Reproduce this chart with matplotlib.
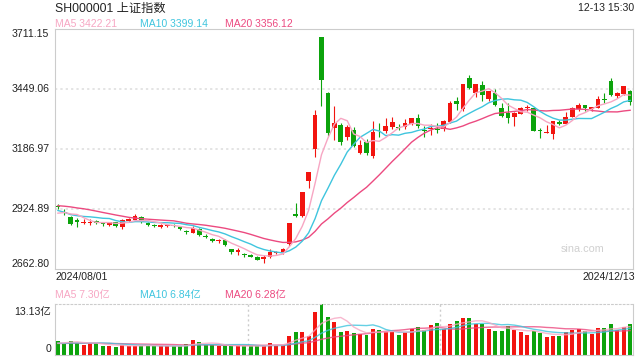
import matplotlib.pyplot as plt
import numpy as np
import pandas as pd

plt.rcParams['font.family'] = ['Liberation Sans', 'Noto Sans CJK SC']

# daily candles, 2024/08/01 .. 2024/12/13
opens = [2936, 2912, 2888, 2876, 2865, 2864, 2874, 2862, 2857, 2866, 2847, 2872, 2876, 2892, 2862, 2855, 2848, 2852, 2856, 2847, 2830, 2821,
         2838, 2808, 2795, 2785, 2789, 2750, 2738, 2728, 2722, 2714, 2706, 2716, 2731, 2735, 2770.75, 2901.42, 2893, 3049, 3186,
         3674.40, 3433, 3277, 3290, 3238, 3268, 3170, 3219, 3155, 3272, 3265, 3285, 3284, 3282, 3298, 3324, 3270, 3275,
         3276, 3275, 3307, 3395, 3360, 3496, 3432, 3466, 3405, 3432, 3367, 3345, 3326, 3342, 3365, 3365, 3272, 3258, 3252, 3305, 3298,
         3328, 3362, 3377, 3360, 3368, 3405, 3484, 3418, 3428, 3440]
highs = [2947, 2925, 2895, 2886, 2881, 2880, 2878, 2866, 2870, 2868, 2880, 2885, 2904, 2895, 2868, 2860, 2858, 2860, 2860, 2850, 2835, 2850,
         2840, 2815, 2800, 2795, 2792, 2752, 2756, 2732, 2728, 2718, 2722, 2750, 2742, 2755, 2863.13, 2952.45, 3000.95, 3087.53, 3358.59,
         3674.40, 3436, 3374, 3300, 3290, 3282, 3226, 3230, 3309, 3300, 3322, 3328, 3296, 3318, 3324, 3338, 3286, 3295,
         3300, 3312, 3396, 3412, 3471, 3509, 3470, 3486, 3440, 3450, 3390, 3388, 3350, 3370, 3380, 3368, 3278, 3290, 3310, 3315, 3350,
         3370, 3390, 3380, 3370, 3420, 3430, 3495, 3435, 3462, 3445]
lows = [2926, 2900, 2853, 2845, 2860, 2856, 2860, 2852, 2850, 2848, 2838, 2870, 2874, 2862, 2850, 2845, 2842, 2848, 2845, 2835, 2817, 2818,
        2808, 2798, 2782, 2778, 2762, 2728, 2725, 2716, 2714, 2700, 2690, 2712, 2728, 2730, 2762, 2889, 2889, 3016, 3152,
        3375, 3242, 3226, 3205, 3226, 3195, 3163, 3160, 3148, 3240, 3255, 3275, 3268, 3276, 3290, 3280, 3240, 3250,
        3258, 3265, 3300, 3358, 3355, 3450, 3414, 3398, 3398, 3376, 3327, 3300, 3286, 3338, 3355, 3265, 3233, 3255, 3232, 3290, 3295,
        3325, 3352, 3355, 3355, 3365, 3390, 3418, 3410, 3425, 3380]
closes = [2932.39, 2905.34, 2860.70, 2867.28, 2869.90, 2870.22, 2862.19, 2858.20, 2867.95, 2850.65, 2877.36, 2879.43, 2893.67, 2866.66,
          2856.58, 2848.77, 2854.37, 2855.52, 2848.73, 2837.43, 2823.11, 2842.21,
          2811.04, 2802.98, 2784.28, 2788.31, 2765.81, 2736.49, 2744.19, 2721.80, 2717.12, 2704.09, 2717.28, 2736.02, 2736.81,
          2748.92, 2863.13, 2896.31, 3000.95, 3087.53, 3336.50,
          3489.78, 3258.86, 3301.93, 3217.74, 3284.32, 3201.29, 3202.95, 3169.38, 3261.56, 3268.11, 3285.87, 3302.80, 3280.26,
          3299.70, 3322.20, 3286.41, 3266.24, 3279.82,
          3272.01, 3310.21, 3386.99, 3383.81, 3470.66, 3452.30, 3470.07, 3421.97, 3439.28, 3379.84, 3330.73, 3323.85, 3346.01,
          3367.99, 3370.40, 3267.19, 3263.76, 3259.76, 3309.78, 3295.70, 3326.46,
          3363.98, 3378.81, 3364.65, 3368.86, 3404.08, 3402.53, 3422.66, 3432.49, 3461.50, 3391.88]
# volume in 亿 (hundred million lots)
volumes = [3.5, 3.0, 3.7, 3.2, 2.6, 3.0, 3.0, 2.4, 2.4, 2.1, 2.5, 2.4, 2.4, 2.4, 2.4, 2.4, 2.3, 2.3, 2.2, 2.2, 2.9, 3.9,
           3.4, 2.6, 2.6, 2.3, 2.3, 2.3, 2.3, 2.3, 2.3, 2.3, 2.3, 3.2, 2.6, 2.6, 4.8, 5.8, 5.8, 4.9, 11.0,
           13.13, 9.8, 8.4, 6.0, 6.2, 5.7, 5.4, 5.2, 6.7, 6.5, 5.8, 6.0, 5.2, 5.8, 6.8, 7.3, 6.4, 7.8,
           8.3, 6.7, 8.0, 8.8, 9.6, 9.6, 8.0, 8.0, 6.7, 6.2, 6.2, 7.4, 6.4, 6.0, 5.2, 6.2, 5.7, 4.7, 4.9, 4.9, 5.8,
           6.5, 6.7, 6.2, 5.5, 7.0, 6.9, 8.0, 6.5, 7.2, 7.9]
# the 19 sessions before 08/01, needed for the moving averages
prev_close = [2949.93, 2922.45, 2959.37, 2939.36, 2970.39, 2971.30, 2974.01, 2976.30, 2962.85, 2977.13, 2982.31, 2964.22,
              2915.37, 2901.95, 2886.74, 2890.90, 2891.85, 2879.30, 2938.75]
prev_vol = [2.9, 2.8, 3.0, 2.7, 3.1, 2.9, 2.8, 2.9, 2.7, 3.2, 3.4, 2.8, 3.0, 2.9, 3.1, 2.6, 2.7, 2.8, 3.6]

price_ticks = [2662.80, 2924.89, 3186.97, 3449.06, 3711.15]
vol_max = 13.13

RED = '#f2140f'
GREEN = '#0ca30c'
C_MA5 = '#f7a6c3'
C_MA10 = '#3fc5de'
C_MA20 = '#ec4a80'
FRAME = '#cccccc'

n = len(closes)
x = np.arange(n)
c_all = pd.Series(prev_close + closes)
v_all = pd.Series(prev_vol + volumes)
ma = {k: c_all.rolling(k).mean().values[-n:] for k in (5, 10, 20)}
vma = {k: v_all.rolling(k).mean().values[-n:] for k in (5, 10, 20)}

o = np.array(opens)
c = np.array(closes)
colors = [RED if cc >= oo else GREEN for oo, cc in zip(o, c)]


def px(xp, yp):
    return xp / 640, 1 - yp / 360


fig = plt.figure(figsize=(6.4, 3.6), dpi=100)

# price panel
ax = fig.add_axes([55 / 640, 1 - 269 / 360, 578 / 640, 240 / 360])
ax.vlines(x, lows, highs, colors=colors, lw=0.8, zorder=2)
body = np.maximum(np.abs(c - o), 2.5)
ax.bar(x, body, bottom=np.minimum(o, c), width=0.72, color=colors, zorder=3)
ax.plot(x, ma[20], color=C_MA20, lw=1.0, zorder=4)
ax.plot(x, ma[10], color=C_MA10, lw=1.0, zorder=4)
ax.plot(x, ma[5], color=C_MA5, lw=1.0, zorder=4)
for t in price_ticks[1:-1]:
    ax.axhline(t, color='#dddddd', lw=1.1, ls=(0, (1.5, 2)), zorder=1)
ax.set_xlim(-0.45, n - 0.55)
ax.set_ylim(price_ticks[0], price_ticks[-1])
ax.set_xticks([])
ax.set_yticks(price_ticks)
ax.set_yticklabels(['%.2f' % t for t in price_ticks], fontsize=7.6, color='#222222')
for lab, va in zip(ax.get_yticklabels(), ['bottom', 'center', 'center', 'center', 'top']):
    lab.set_verticalalignment(va)
ax.tick_params(axis='y', length=0, pad=4)
for s in ax.spines.values():
    s.set_color(FRAME)
ax.text(0.95, 0.085, 'sina.com', transform=ax.transAxes, ha='right', va='center',
        fontsize=7.8, color='#d0d0d0')

# volume panel
vax = fig.add_axes([55 / 640, 1 - 355 / 360, 578 / 640, 51 / 360])
vax.bar(x, volumes, width=0.62, color=colors, zorder=2)
vax.plot(x, vma[20], color=C_MA20, lw=1.0, alpha=0.8, zorder=3)
vax.plot(x, vma[10], color=C_MA10, lw=1.0, alpha=0.8, zorder=3)
vax.plot(x, vma[5], color=C_MA5, lw=1.0, alpha=0.8, zorder=3)
for f in (1 / 3, 2 / 3):
    vax.axvline(-0.45 + f * n - 0.1 * f, color='#cccccc', lw=1.0, ls=(0, (1.5, 2)), zorder=1)
vax.set_xlim(-0.45, n - 0.55)
vax.set_ylim(0, vol_max)
vax.set_xticks([])
vax.set_yticks([])
for s in vax.spines.values():
    s.set_color(FRAME)
vax.spines['top'].set_linestyle((0, (1.5, 2)))

# texts
fig.text(*px(55, 9), 'SH000001 上证指数', fontsize=8.8, color='#222222', va='center')
fig.text(*px(634, 8), '12-13 15:30', fontsize=7.6, color='#222222', va='center', ha='right')
leg_x = [55, 140, 225]
for xx, k, col in zip(leg_x, (5, 10, 20), (C_MA5, C_MA10, C_MA20)):
    fig.text(*px(xx, 24), 'MA%d %.2f' % (k, ma[k][-1]), fontsize=7.5, color=col, va='center')
    fig.text(*px(xx, 295), 'MA%d %.2f亿' % (k, vma[k][-1]), fontsize=7.5, color=col, va='center')
fig.text(*px(55, 277), '2024/08/01', fontsize=7.6, color='#222222', va='center')
fig.text(*px(635, 277), '2024/12/13', fontsize=7.6, color='#222222', va='center', ha='right')
fig.text(*px(51, 312), '%.2f亿' % vol_max, fontsize=7.6, color='#222222', va='center', ha='right')
fig.text(*px(51, 349), '0', fontsize=7.6, color='#222222', va='center', ha='right')

fig.savefig('out.png', dpi=100)
